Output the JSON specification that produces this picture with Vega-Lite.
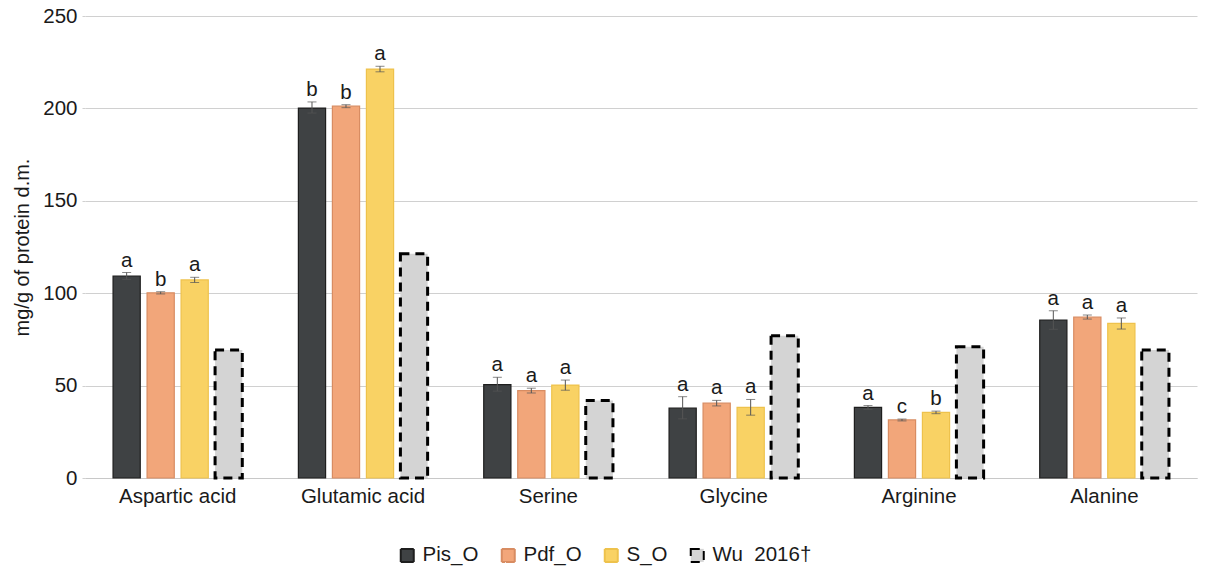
{
  "$schema": "https://vega.github.io/schema/vega-lite/v6.json",
  "width": 1112,
  "height": 462,
  "autosize": {"type": "none"},
  "padding": {"left": 85, "top": 16, "right": 15, "bottom": 90},
  "background": "white",
  "config": {
    "font": "Liberation Sans",
    "view": {"stroke": null},
    "scale": {"continuousPadding": 0},
    "axisY": {
      "titleFontSize": 20, "titleFontWeight": "normal", "titleColor": "#1a1a1a", "titleX": -53,
      "labelFontSize": 20.5, "labelColor": "#1a1a1a", "labelPadding": 5,
      "tickSize": 3, "tickColor": "#d0d0d0", "domain": false,
      "gridColor": "#d0d0d0", "gridWidth": 1
    },
    "axisX": {
      "labelFontSize": 20.5, "labelColor": "#1a1a1a", "labelPadding": 8,
      "ticks": false, "domain": true, "domainColor": "#c8c8c8", "labelAngle": 0
    },
    "legend": {
      "orient": "none", "legendX": 312, "legendY": 529, "direction": "horizontal",
      "symbolType": "square", "symbolSize": 169, "labelFontSize": 20.5, "labelColor": "#1a1a1a",
      "columnPadding": 18, "labelOffset": 5, "symbolStrokeWidth": 2, "padding": 0, "title": null
    }
  },
  "data": {
    "values": [
      {"aa": "Aspartic acid", "series": "Pis_O", "value": 109.3, "lo": 107.5, "hi": 111.2, "letter": "a"},
      {"aa": "Aspartic acid", "series": "Pdf_O", "value": 100.2, "lo": 99.6, "hi": 100.8, "letter": "b"},
      {"aa": "Aspartic acid", "series": "S_O", "value": 107.2, "lo": 105.8, "hi": 108.6, "letter": "a"},
      {"aa": "Aspartic acid", "series": "Wu\u00a0\u00a02016†", "value": 69.2, "lo": null, "hi": null, "letter": ""},
      {"aa": "Glutamic acid", "series": "Pis_O", "value": 200.2, "lo": 197.5, "hi": 203.5, "letter": "b"},
      {"aa": "Glutamic acid", "series": "Pdf_O", "value": 201.2, "lo": 200.4, "hi": 202.0, "letter": "b"},
      {"aa": "Glutamic acid", "series": "S_O", "value": 221.3, "lo": 219.8, "hi": 222.8, "letter": "a"},
      {"aa": "Glutamic acid", "series": "Wu\u00a0\u00a02016†", "value": 121.3, "lo": null, "hi": null, "letter": ""},
      {"aa": "Serine", "series": "Pis_O", "value": 50.5, "lo": 47.0, "hi": 54.5, "letter": "a"},
      {"aa": "Serine", "series": "Pdf_O", "value": 47.3, "lo": 46.0, "hi": 48.6, "letter": "a"},
      {"aa": "Serine", "series": "S_O", "value": 50.3, "lo": 47.5, "hi": 53.0, "letter": "a"},
      {"aa": "Serine", "series": "Wu\u00a0\u00a02016†", "value": 42.0, "lo": null, "hi": null, "letter": ""},
      {"aa": "Glycine", "series": "Pis_O", "value": 37.8, "lo": 32.0, "hi": 44.0, "letter": "a"},
      {"aa": "Glycine", "series": "Pdf_O", "value": 40.5, "lo": 39.0, "hi": 42.0, "letter": "a"},
      {"aa": "Glycine", "series": "S_O", "value": 38.2, "lo": 34.0, "hi": 42.5, "letter": "a"},
      {"aa": "Glycine", "series": "Wu\u00a0\u00a02016†", "value": 77.0, "lo": null, "hi": null, "letter": ""},
      {"aa": "Arginine", "series": "Pis_O", "value": 38.2, "lo": 37.2, "hi": 39.2, "letter": "a"},
      {"aa": "Arginine", "series": "Pdf_O", "value": 31.4, "lo": 30.9, "hi": 31.9, "letter": "c"},
      {"aa": "Arginine", "series": "S_O", "value": 35.5, "lo": 34.8, "hi": 36.2, "letter": "b"},
      {"aa": "Arginine", "series": "Wu\u00a0\u00a02016†", "value": 71.0, "lo": null, "hi": null, "letter": ""},
      {"aa": "Alanine", "series": "Pis_O", "value": 85.5, "lo": 80.5, "hi": 90.5, "letter": "a"},
      {"aa": "Alanine", "series": "Pdf_O", "value": 87.0, "lo": 86.0, "hi": 88.2, "letter": "a"},
      {"aa": "Alanine", "series": "S_O", "value": 83.7, "lo": 80.6, "hi": 86.6, "letter": "a"},
      {"aa": "Alanine", "series": "Wu\u00a0\u00a02016†", "value": 69.3, "lo": null, "hi": null, "letter": ""}
    ]
  },
  "encoding": {
    "x": {
      "field": "aa", "type": "nominal",
      "sort": ["Aspartic acid", "Glutamic acid", "Serine", "Glycine", "Arginine", "Alanine"],
      "scale": {"paddingInner": 0.266, "paddingOuter": 0.133},
      "axis": {"title": null}
    },
    "xOffset": {
      "field": "series", "type": "nominal",
      "sort": ["Pis_O", "Pdf_O", "S_O", "Wu\u00a0\u00a02016†"],
      "scale": {"paddingInner": 0.2, "paddingOuter": 0.1}
    }
  },
  "layer": [
    {
      "mark": {"type": "bar"},
      "encoding": {
        "y": {
          "field": "value", "type": "quantitative",
          "scale": {"domain": [0, 250], "padding": 0, "nice": false},
          "axis": {"title": "mg/g of protein d.m.", "values": [0, 50, 100, 150, 200, 250]}
        },
        "fill": {
          "field": "series", "type": "nominal",
          "sort": ["Pis_O", "Pdf_O", "S_O", "Wu\u00a0\u00a02016†"],
          "scale": {"domain": ["Pis_O", "Pdf_O", "S_O", "Wu\u00a0\u00a02016†"], "range": ["#3f4244", "#f2a67a", "#f9d264", "#d4d4d4"]}
        },
        "stroke": {
          "field": "series", "type": "nominal",
          "scale": {"domain": ["Pis_O", "Pdf_O", "S_O", "Wu\u00a0\u00a02016†"], "range": ["#1e1e1e", "#d88c62", "#eec24c", "#000000"]}
        },
        "strokeDash": {
          "field": "series", "type": "nominal",
          "scale": {"domain": ["Pis_O", "Pdf_O", "S_O", "Wu\u00a0\u00a02016†"], "range": [[1, 0], [1, 0], [1, 0], [9, 6]]}
        },
        "strokeWidth": {
          "condition": {"test": "datum.series === 'Wu\u00a0\u00a02016†'", "value": 3},
          "value": 1.2
        }
      }
    },
    {
      "transform": [{"filter": "datum.lo != null"}],
      "mark": {"type": "rule", "color": "#555555", "strokeWidth": 1},
      "encoding": {
        "y": {"field": "lo", "type": "quantitative"},
        "y2": {"field": "hi"}
      }
    },
    {
      "transform": [{"filter": "datum.lo != null"}],
      "mark": {"type": "tick", "color": "#555555", "size": 9, "thickness": 1},
      "encoding": {
        "y": {"field": "lo", "type": "quantitative"}
      }
    },
    {
      "transform": [{"filter": "datum.lo != null"}],
      "mark": {"type": "tick", "color": "#555555", "size": 9, "thickness": 1},
      "encoding": {
        "y": {"field": "hi", "type": "quantitative"}
      }
    },
    {
      "transform": [{"filter": "datum.lo != null"}],
      "mark": {"type": "text", "fontSize": 20.5, "color": "#1a1a1a", "baseline": "alphabetic", "dy": -6},
      "encoding": {
        "y": {"field": "hi", "type": "quantitative"},
        "text": {"field": "letter"}
      }
    }
  ]
}
